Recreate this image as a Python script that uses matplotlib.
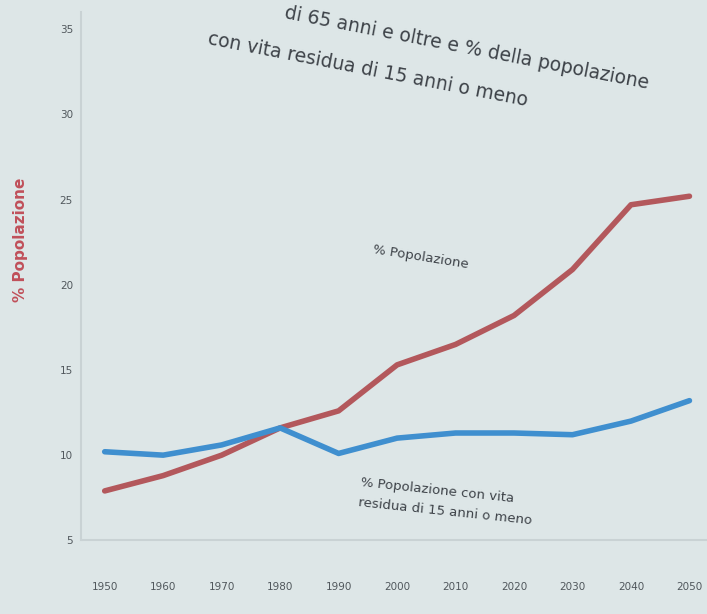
import matplotlib.pyplot as plt

# Data
years = [1950, 1960, 1970, 1980, 1990, 2000, 2010, 2020, 2030, 2040, 2050]
pop_65 = [7.9, 8.8, 10.0, 11.6, 12.6, 15.3, 16.5, 18.2, 20.9, 24.7, 25.2]
pop_vita15 = [10.2, 10.0, 10.6, 11.6, 10.1, 11.0, 11.3, 11.3, 11.2, 12.0, 13.2]
y_ticks = [5, 10, 15, 20, 25, 30, 35]

bg = '#dde6e7'
red = '#b3585c'
blue = '#3f8fcf'
txt = '#3d4248'

fig = plt.figure(figsize=(7.07, 6.14), dpi=100, facecolor=bg)
ax = fig.add_axes([0.115, 0.12, 0.885, 0.86], facecolor=bg)

ax.plot(years, pop_65, color=red, lw=4, solid_capstyle='round')
ax.plot(years, pop_vita15, color=blue, lw=4, solid_capstyle='round')

ax.set_xlim(1946, 2053)
ax.set_ylim(5, 36)
ax.set_xticks(years)
ax.set_xticklabels([str(y) for y in years], fontsize=7.5, color='#50575c')
ax.set_yticks(y_ticks)
ax.set_yticklabels([str(v) for v in y_ticks], fontsize=7.5, color='#50575c')
ax.tick_params(length=0, pad=6)
ax.tick_params(axis='x', pad=30)

for side in ['top', 'right']:
    ax.spines[side].set_visible(False)
for side in ['left', 'bottom']:
    ax.spines[side].set_color('#c9d2d4')
    ax.spines[side].set_linewidth(1.5)

ax.set_ylabel('% Popolazione', color='#c0505a', fontsize=11, fontweight='bold')
ax.yaxis.set_label_coords(-0.085, 0.57)

# annotations inside the chart
ax.text(0.466, 0.55, '% Popolazione', transform=ax.transAxes, fontsize=9.5,
        color=txt, rotation=-9, rotation_mode='anchor', ha='left', va='center')
ax.text(0.445, 0.09, '% Popolazione con vita\nresidua di 15 anni o meno', transform=ax.transAxes,
        fontsize=9.5, color=txt, rotation=-6, rotation_mode='anchor', ha='left', va='center',
        linespacing=1.7)

# slide title, its first line partly out of the photo
fig.text(0.405, 0.995, 'di 65 anni e oltre e % della popolazione', fontsize=13.5, color=txt,
         rotation=-11, rotation_mode='anchor', ha='left', va='top')
fig.text(0.297, 0.952, 'con vita residua di 15 anni o meno', fontsize=13.5, color=txt,
         rotation=-11, rotation_mode='anchor', ha='left', va='top')

fig.savefig('out.png', dpi=100, facecolor=bg)
